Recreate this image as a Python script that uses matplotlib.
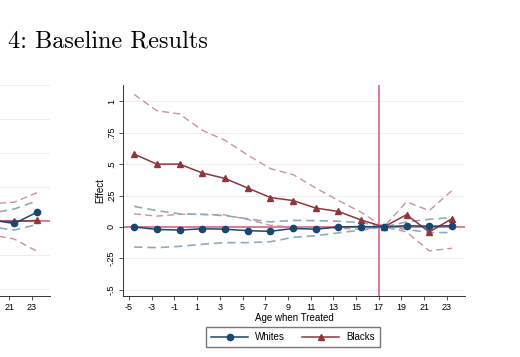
import matplotlib
matplotlib.use("Agg")
import matplotlib.pyplot as plt
import numpy as np

# right panel: event-study estimates by age when treated
ages = [-5, -3, -1, 1, 3, 5, 7, 9, 11, 13, 15, 17, 19, 21, 23]
whites = [0.0, -0.02, -0.025, -0.015, -0.018, -0.03, -0.035, -0.012, -0.018, 0.0, 0.003, 0.0, 0.01, 0.005, 0.01]
whites_hi = [0.164, 0.13, 0.104, 0.10, 0.09, 0.065, 0.04, 0.052, 0.05, 0.045, 0.035, 0.0, 0.04, 0.06, 0.075]
whites_lo = [-0.16, -0.165, -0.155, -0.138, -0.125, -0.125, -0.118, -0.083, -0.07, -0.047, -0.026, 0.0, -0.02, -0.045, -0.045]
blacks = [0.58, 0.50, 0.50, 0.43, 0.386, 0.31, 0.234, 0.21, 0.15, 0.123, 0.055, 0.0, 0.097, -0.04, 0.065]
blacks_hi = [1.055, 0.925, 0.90, 0.77, 0.69, 0.573, 0.464, 0.417, 0.31, 0.21, 0.117, 0.0, 0.20, 0.13, 0.29]
blacks_lo = [0.104, 0.086, 0.10, 0.10, 0.096, 0.06, 0.013, 0.0, -0.005, -0.01, -0.02, 0.0, -0.04, -0.19, -0.17]

# left panel (only its right edge is visible)
ages_l = [17, 19, 21, 23]
whites_l = [0.0, 0.01, -0.016, 0.066]
whites_l_hi = [0.0, 0.06, 0.09, 0.15]
whites_l_lo = [0.0, -0.04, -0.065, -0.023]
blacks_l = [0.0, 0.0, 0.0, 0.006]
blacks_l_hi = [0.0, 0.13, 0.14, 0.21]
blacks_l_lo = [0.0, -0.1, -0.13, -0.22]

yticks = [-0.5, -0.25, 0, 0.25, 0.5, 0.75, 1]
ytick_labels = ["-.5", "-.25", "0", ".25", ".5", ".75", "1"]
xticks = list(range(-5, 24, 2))
xticks_left_shown = [21, 23]

navy = "#1a476f"
maroon = "#90353b"
pink_ci = "#c9939c"
blue_ci = "#93a9b9"
refline = "#d6557a"
grid_c = "#eeeeee"
shift = 0.45

plt.rcParams["font.family"] = ["Liberation Sans", "DejaVu Sans"]

fig = plt.figure(figsize=(5.2, 3.57), dpi=100)
W, H = 520, 357


def style_axes(ax, ylim, xlabels, ylabels):
    ax.set_xlim(-5.53, 24.6)
    ax.set_ylim(*ylim)
    ax.set_xticks(xticks)
    ax.set_xticklabels(xlabels, fontsize=6.5)
    ax.set_yticks(yticks)
    ax.set_yticklabels(ylabels, fontsize=6.5, rotation=90, va="center")
    ax.tick_params(length=3, width=0.6, color="#333333", pad=2)
    for s in ["top", "right"]:
        ax.spines[s].set_visible(False)
    for s in ["left", "bottom"]:
        ax.spines[s].set_linewidth(0.7)
        ax.spines[s].set_color("#333333")
    for t in yticks:
        if t != 0:
            ax.axhline(t, color=grid_c, lw=0.8, zorder=0)


def draw(ax, x, w, wh, wl, b, bh, bl):
    x = np.array(x) + shift
    ax.axhline(0, color=refline, lw=1.1, zorder=1)
    ax.plot(x, bh, ls=(0, (5, 3)), color=pink_ci, lw=1.0, zorder=2)
    ax.plot(x, bl, ls=(0, (5, 3)), color=pink_ci, lw=1.0, zorder=2)
    ax.plot(x, wh, ls=(0, (5, 3)), color=blue_ci, lw=1.2, zorder=2)
    ax.plot(x, wl, ls=(0, (5, 3)), color=blue_ci, lw=1.2, zorder=2)
    l1, = ax.plot(x, w, color=navy, marker="o", ms=4.5, lw=1.1, label="Whites", zorder=4)
    l2, = ax.plot(x, b, color=maroon, marker="^", ms=4.5, lw=1.1, label="Blacks", zorder=3)
    return l1, l2


# left panel, mostly off the figure
axl = fig.add_axes([(50 - 342) / W, 1 - 296 / H, 342 / W, 211 / H])
style_axes(axl, (-0.548, 0.85),
           [str(t) if t in xticks_left_shown else "" for t in xticks],
           ["" for t in yticks])
draw(axl, ages_l, whites_l, whites_l_hi, whites_l_lo, blacks_l, blacks_l_hi, blacks_l_lo)

# right panel
ax = fig.add_axes([123 / W, 1 - 296 / H, 342 / W, 211 / H])
style_axes(ax, (-0.55, 1.13), [str(t) for t in xticks], ytick_labels)
ax.axvline(17, color=refline, lw=1.1, zorder=1)
l1, l2 = draw(ax, ages, whites, whites_hi, whites_lo, blacks, blacks_hi, blacks_lo)
ax.set_xlabel("Age when Treated", fontsize=7, labelpad=1)
ax.set_ylabel("Effect", fontsize=7, labelpad=1)

fig.legend(handles=[l1, l2], loc="center", bbox_to_anchor=(293 / W, 1 - 337 / H),
           ncol=2, fontsize=7, frameon=True, fancybox=False, edgecolor="#555555",
           handlelength=3.8, columnspacing=1.8, borderpad=0.5, handletextpad=0.7)

fig.text(8 / W, 1 - 47 / H, "4: Baseline Results", family="cmr10", fontsize=17.5,
         va="baseline", ha="left")

fig.savefig("out.png", dpi=100)
